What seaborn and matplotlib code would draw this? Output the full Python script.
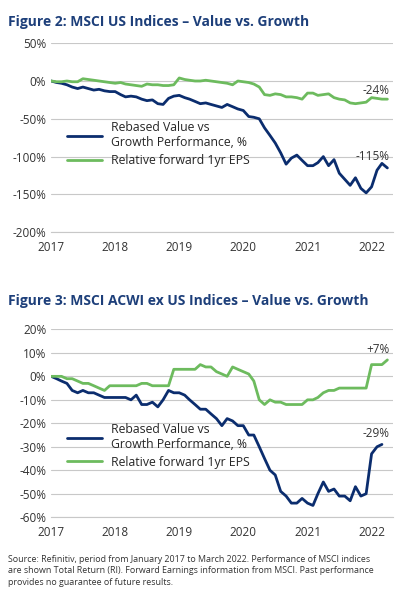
import pandas as pd
import matplotlib.pyplot as plt
import seaborn as sns
from matplotlib.ticker import FuncFormatter

us_value = [0, -2, -3, -5, -8, -10, -8, -10, -12, -11, -13, -14,
            -14, -18, -21, -20, -21, -24, -26, -25, -30, -31, -23, -20,
            -19, -22, -24, -27, -30, -29, -31, -33, -35, -31, -34, -37,
            -39, -47, -48, -50, -62, -72, -82, -95, -110, -102, -98, -105,
            -112, -112, -108, -100, -112, -104, -122, -130, -138, -128, -142, -148,
            -140, -118, -109, -115]
us_eps = [0, -1, -1, 0, -1, -1, 3, 2, 1, 0, -1, -2,
          -3, -2, -4, -5, -6, -7, -4, -5, -5, -6, -6, -5,
          4, 2, 1, 0, 0, 1, 0, -1, -2, -3, -5, 0,
          -1, -2, -4, -8, -18, -19, -17, -18, -21, -21, -22, -24,
          -16, -16, -19, -18, -17, -22, -24, -25, -29, -30, -29, -28,
          -22, -23, -24, -24]
ex_value = [0, -1, -2, -3, -6, -7, -6, -7, -7, -8, -9, -9,
            -9, -9, -9, -10, -8, -12, -12, -11, -13, -10, -6, -7,
            -7, -8, -10, -12, -14, -14, -16, -18, -21, -18, -19, -21,
            -21, -25, -25, -30, -35, -40, -42, -49, -51, -54, -54, -52,
            -54, -55, -50, -45, -49, -48, -51, -51, -53, -47, -51, -50,
            -33, -30, -29]
ex_eps = [0, 0, 0, -1, -1, -2, -3, -3, -4, -5, -6, -4,
          -4, -4, -4, -4, -4, -3, -3, -4, -4, -4, -4, 3,
          3, 3, 3, 3, 5, 4, 4, 2, 1, 0, 4, 3,
          2, 1, -2, -10, -12, -10, -11, -11, -12, -12, -12, -12,
          -10, -10, -9, -7, -6, -6, -5, -5, -5, -5, -5, -5,
          5, 5, 5, 7]

navy = '#0b2d6e'
green = '#6dbb5e'
sns.set_style('white')
plt.rcParams['font.family'] = ['Open Sans', 'DejaVu Sans']

fig = plt.figure(figsize=(4.09, 6), dpi=100)
ax1 = fig.add_axes([0.125, 0.613, 0.835, 0.315])
ax2 = fig.add_axes([0.125, 0.138, 0.835, 0.313])


def draw(ax, value, eps, ticks, end_labels, leg_y):
    df = pd.DataFrame({
        'date': list(pd.date_range('2017-01-01', periods=len(value), freq='MS')) +
                list(pd.date_range('2017-01-01', periods=len(eps), freq='MS')),
        'val': value + eps,
        'series': ['Rebased Value vs\nGrowth Performance, %'] * len(value) +
                  ['Relative forward 1yr EPS'] * len(eps)})
    sns.lineplot(data=df, x='date', y='val', hue='series', palette=[navy, green],
                 linewidth=2, ax=ax)
    ax.set_ylim(ticks[0], ticks[-1])
    ax.set_yticks(ticks)
    ax.yaxis.set_major_formatter(FuncFormatter(lambda v, p: f'{v:.0f}%'))
    years = pd.to_datetime([f'{y}-01-01' for y in range(2017, 2023)])
    ax.set_xticks(years)
    ax.set_xticklabels([str(y) for y in range(2017, 2023)])
    ax.set_xlim(pd.Timestamp('2017-01-01'), pd.Timestamp('2022-05-01'))
    ax.grid(axis='y', color='#c8c8c8', linewidth=0.8)
    for s in ['top', 'right', 'left']:
        ax.spines[s].set_visible(False)
    ax.spines['bottom'].set_color('#c8c8c8')
    ax.tick_params(labelsize=8.5, colors='#333333', length=0)
    ax.tick_params(axis='x', pad=6)
    ax.set_xlabel('')
    ax.set_ylabel('')
    ax.legend(loc='upper left', bbox_to_anchor=(0.03, leg_y), frameon=False,
              fontsize=8.8, handlelength=2.8, labelspacing=0.4, borderpad=0)
    for txt, y in end_labels:
        ax.text(pd.Timestamp('2022-04-15'), y, txt, ha='right', va='bottom',
                fontsize=8.5, color='#333333')


draw(ax1, us_value, us_eps, [-200, -150, -100, -50, 0, 50],
     [('-24%', -21), ('-115%', -108)], 0.62)
draw(ax2, ex_value, ex_eps, [-60, -50, -40, -30, -20, -10, 0, 10, 20],
     [('+7%', 8.5), ('-29%', -27)], 0.535)

fig.text(0.02, 0.975, 'Figure 2: MSCI US Indices \u2013 Value vs. Growth',
         fontsize=10, fontweight='bold', color='#1d3f7a', va='top')
fig.text(0.02, 0.51, 'Figure 3: MSCI ACWI ex US Indices \u2013 Value vs. Growth',
         fontsize=10, fontweight='bold', color='#1d3f7a', va='top')
fig.text(0.02, 0.075, 'Source: Refinitiv, period from January 2017 to March 2022. Performance of MSCI indices\n'
         'are shown Total Return (RI). Forward Earnings information from MSCI. Past performance\n'
         'provides no guarantee of future results.',
         fontsize=6.4, color='#333333', va='top', linespacing=1.35)

fig.savefig('out.png', dpi=100)
